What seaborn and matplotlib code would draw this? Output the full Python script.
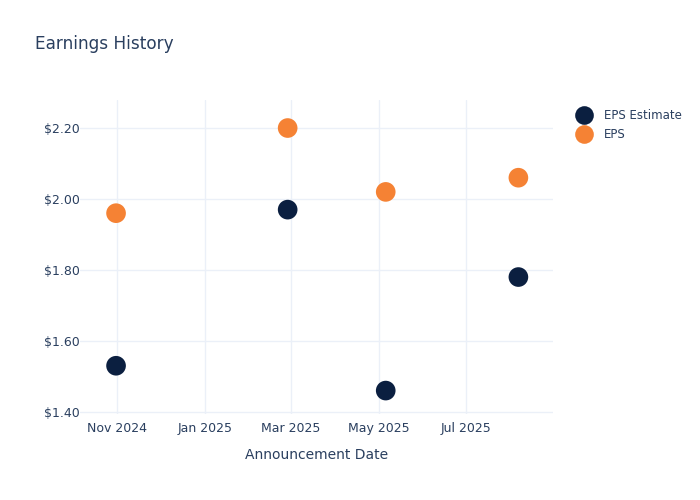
import matplotlib
matplotlib.use("Agg")
import matplotlib.pyplot as plt
import matplotlib.dates as mdates
import seaborn as sns
import pandas as pd

dates = ["2024-10-31", "2025-02-27", "2025-05-06", "2025-08-06"]
eps_estimate = [1.53, 1.97, 1.46, 1.78]
eps_actual = [1.96, 2.20, 2.02, 2.06]
series_names = ["EPS Estimate", "EPS"]
y_ticks = [1.40, 1.60, 1.80, 2.00, 2.20]

df = pd.DataFrame({
    "date": pd.to_datetime(dates * 2),
    "value": eps_estimate + eps_actual,
    "series": [series_names[0]] * len(dates) + [series_names[1]] * len(dates),
})

sns.set_style("white")
plt.rcParams["font.family"] = ["DejaVu Sans"]
text_color = "#2a3f5f"
grid_color = "#EBF0F8"

fig = plt.figure(figsize=(7, 5), dpi=100)
ax = fig.add_axes([80 / 700, 1 - 414 / 500, (553 - 80) / 700, (414 - 100) / 500])

sns.scatterplot(
    data=df, x="date", y="value", hue="series",
    palette={"EPS Estimate": "#0B1F40", "EPS": "#F58234"},
    s=200, edgecolor="none", ax=ax, zorder=3,
)

ax.set_xlim(pd.Timestamp("2024-10-06"), pd.Timestamp("2025-08-30"))
ax.set_ylim(1.394, 2.279)
ax.set_yticks(y_ticks)
ax.set_yticklabels([f"${v:.2f}" for v in y_ticks])
ax.xaxis.set_major_locator(mdates.MonthLocator(bymonth=[1, 3, 5, 7, 11]))
ax.xaxis.set_major_formatter(mdates.DateFormatter("%b %Y"))

ax.grid(True, color=grid_color, linewidth=1, zorder=0)
for sp in ax.spines.values():
    sp.set_visible(False)
ax.tick_params(axis="both", colors=text_color, labelsize=9, length=0)
ax.tick_params(axis="y", pad=0)
ax.tick_params(axis="x", pad=6)
ax.set_xlabel("Announcement Date", color=text_color, fontsize=10, labelpad=9)
ax.set_ylabel("")

leg = ax.legend(
    loc="upper left", bbox_to_anchor=(1.03, 0.985), frameon=False,
    fontsize=8.5, handletextpad=0.7, labelspacing=0.5, borderaxespad=0.0,
    markerscale=0.95,
)
for t in leg.get_texts():
    t.set_color(text_color)

fig.text(35 / 700, 1 - 44 / 500, "Earnings History", color=text_color,
         fontsize=12.2, va="center", ha="left")

fig.savefig("out.png", dpi=100)
